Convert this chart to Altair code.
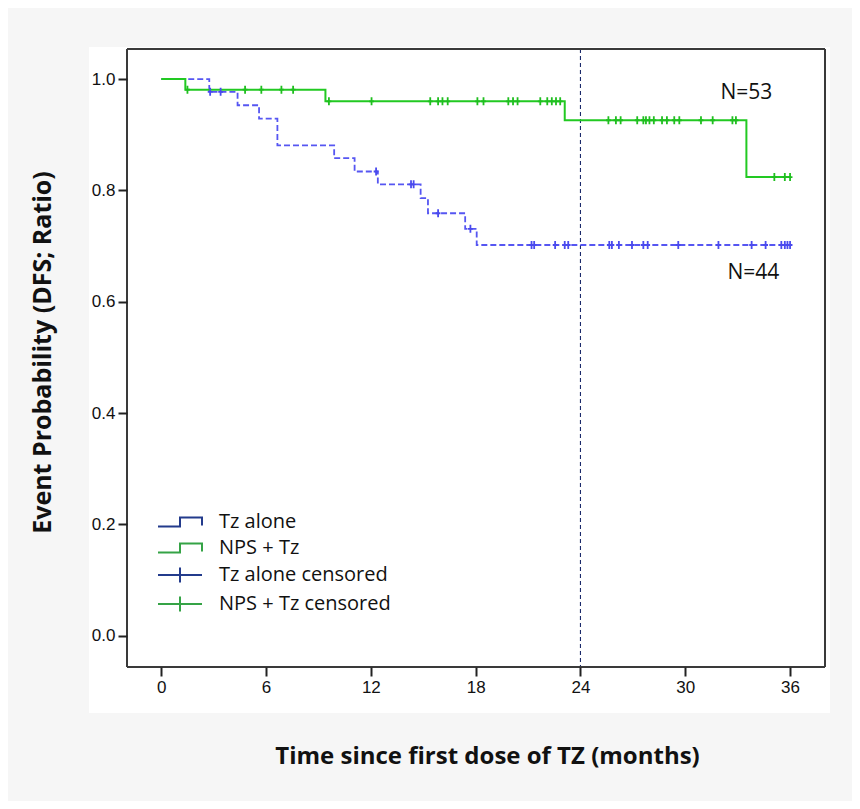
import altair as alt
import pandas as pd

# ---- data ----
blue_t = [0, 2.75, 4.37, 5.6, 6.65, 9.9, 11.07, 12.4, 14.85, 15.27, 17.4, 18.06, 36]
blue_s = [1.0, 0.977, 0.953, 0.929, 0.881, 0.858, 0.834, 0.811, 0.786, 0.759, 0.731, 0.702, 0.702]
green_t = [0, 1.38, 9.4, 23.1, 33.5, 36]
green_s = [1.0, 0.981, 0.960, 0.926, 0.824, 0.824]

blue_cens = [2.8, 3.4, 12.3, 14.3, 14.45, 15.85, 17.7, 21.2, 21.35, 22.55, 23.1, 23.3,
             25.65, 25.8, 26.2, 26.95, 27.6, 27.85, 29.6, 31.9, 33.8, 34.6, 35.5, 35.7,
             35.85, 36.0]
green_cens = [1.5, 4.8, 5.73, 6.88, 7.55, 9.6, 12.04, 15.4, 15.85, 16.1, 16.4, 18.1,
              18.45, 19.87, 20.14, 20.4, 21.7, 22.1, 22.36, 22.6, 22.84, 25.6, 26.03,
              26.3, 27.25, 27.6, 27.75, 27.95, 28.2, 28.67, 28.95, 29.37, 29.66, 30.9,
              31.57, 32.7, 32.9, 35.1, 35.7, 36.0]

legend_names = ["Tz alone", "NPS + Tz", "Tz alone censored", "NPS + Tz censored"]
ann_text = ["N=53", "N=44"]
ann_x = [33.5, 33.9]
ann_y = [0.975, 0.651]

x_ticks = [0, 6, 12, 18, 24, 30, 36]
y_ticks = [0.0, 0.2, 0.4, 0.6, 0.8, 1.0]
ref_month = [24]

X_DOM = [-1.96, 38.0]
Y_DOM = [-0.056, 1.054]


def level_at(times, levels, c):
    v = levels[0]
    for t, s in zip(times, levels):
        if t <= c:
            v = s
    return v


blue_df = pd.DataFrame({"t": blue_t, "s": blue_s})
green_df = pd.DataFrame({"t": green_t, "s": green_s})
blue_c_df = pd.DataFrame({"t": blue_cens, "s": [level_at(blue_t, blue_s, c) for c in blue_cens]})
green_c_df = pd.DataFrame({"t": green_cens, "s": [level_at(green_t, green_s, c) for c in green_cens]})
ann_df = pd.DataFrame({"t": ann_x, "s": ann_y, "label": ann_text})
leg_df = pd.DataFrame({"series": legend_names, "t": [0] * 4, "s": [0] * 4})

xs = alt.Scale(domain=X_DOM, nice=False, zero=False)
ys = alt.Scale(domain=Y_DOM, nice=False, zero=False)

x_axis = alt.Axis(values=x_ticks, title="Time since first dose of TZ (months)", domain=False,
                  grid=False, tickSize=9, tickWidth=2, tickColor="#222",
                  labelFont="Liberation Sans", labelFontSize=17, labelColor="#111",
                  labelPadding=3, titleFont="Open Sans", titleFontSize=24,
                  titleFontWeight="bold", titleColor="#111", titleX=360, titleY=89,
                  titleBaseline="middle", titleAlign="center", zindex=1)
y_axis = alt.Axis(values=y_ticks, format=".1f", title="Event Probability (DFS; Ratio)",
                  domain=False, grid=False, tickSize=9, tickWidth=2, tickColor="#222",
                  labelFont="Liberation Sans", labelFontSize=17, labelColor="#111",
                  labelPadding=3, titleFont="Open Sans", titleFontSize=25,
                  titleFontWeight="bold", titleColor="#111", titleX=-85, titleY=303,
                  titleBaseline="middle", titleAlign="center", titleAngle=270, zindex=1)

X = alt.X("t:Q", scale=xs, axis=x_axis)
Y = alt.Y("s:Q", scale=ys, axis=y_axis)

panel = alt.Chart(leg_df).mark_rect(fill="white", stroke=None).encode(
    x=alt.value(-38), x2=alt.value(703), y=alt.value(-2), y2=alt.value(664))

blue_line = alt.Chart(blue_df).mark_line(
    interpolate="step-after", color="#5656f2", strokeWidth=1.8, strokeDash=[6, 3]
).encode(x=X, y=Y)

green_line = alt.Chart(green_df).mark_line(
    interpolate="step-after", color="#22c922", strokeWidth=2
).encode(x=X, y=Y)

cross = "M-0.6,0H0.6M0,-1V1"
blue_pts = alt.Chart(blue_c_df).mark_point(
    shape=cross, size=64, filled=False, color="#4a4aee", strokeWidth=1.8, opacity=1
).encode(x=X, y=Y)
green_pts = alt.Chart(green_c_df).mark_point(
    shape=cross, size=64, filled=False, color="#1fbf1f", strokeWidth=1.8, opacity=1
).encode(x=X, y=Y)

ref_rule = alt.Chart(pd.DataFrame({"t": ref_month})).mark_rule(
    color="#1b2a6b", strokeWidth=1.1, strokeDash=[4, 3]
).encode(x=X)

frame_v = alt.Chart(pd.DataFrame({"t": X_DOM})).mark_rule(color="#3a3a3a", strokeWidth=2).encode(x=X)
frame_h = alt.Chart(pd.DataFrame({"s": Y_DOM})).mark_rule(color="#3a3a3a", strokeWidth=2).encode(y=Y)

ann = alt.Chart(ann_df).mark_text(
    font="Open Sans", fontSize=21, color="#111", align="center", baseline="middle"
).encode(x=X, y=Y, text="label:N")

step_path = "M-2.2,0.45H0V-0.45H2.2V0.35"
cross_path = "M-2.2,0H2.2M0,-0.75V0.75"
legend_layer = alt.Chart(leg_df).mark_point(filled=False, opacity=1).encode(
    x=X, y=Y,
    color=alt.Color("series:N",
                    scale=alt.Scale(domain=legend_names,
                                    range=["#233b8c", "#35a346", "#233b8c", "#35a346"]),
                    legend=alt.Legend(orient="none", legendX=42, legendY=462, title=None,
                                      labelFont="Open Sans", labelFontSize=20,
                                      labelColor="#111", labelOffset=28, labelLimit=400,
                                      symbolSize=400, symbolStrokeWidth=2, rowPadding=5,
                                      symbolOpacity=1,
                                      padding=0, zindex=1, direction="vertical")),
    shape=alt.Shape("series:N",
                    scale=alt.Scale(domain=legend_names,
                                    range=[step_path, step_path, cross_path, cross_path]),
                    legend=alt.Legend(orient="none", legendX=42, legendY=462, title=None)),
).transform_filter("datum.t < -100")

chart = alt.layer(
    panel, ref_rule, blue_line, green_line, blue_pts, green_pts, frame_v, frame_h, ann,
    legend_layer
).properties(
    width=698, height=618,
    autosize=alt.AutoSizeParams(type="none"),
    padding={"left": 119, "top": 41, "right": 27, "bottom": 134},
    background="#f6f6f6",
).configure_view(stroke=None, fill=None)

chart.save("out.html", embed_options={"renderer": "svg", "actions": False})
